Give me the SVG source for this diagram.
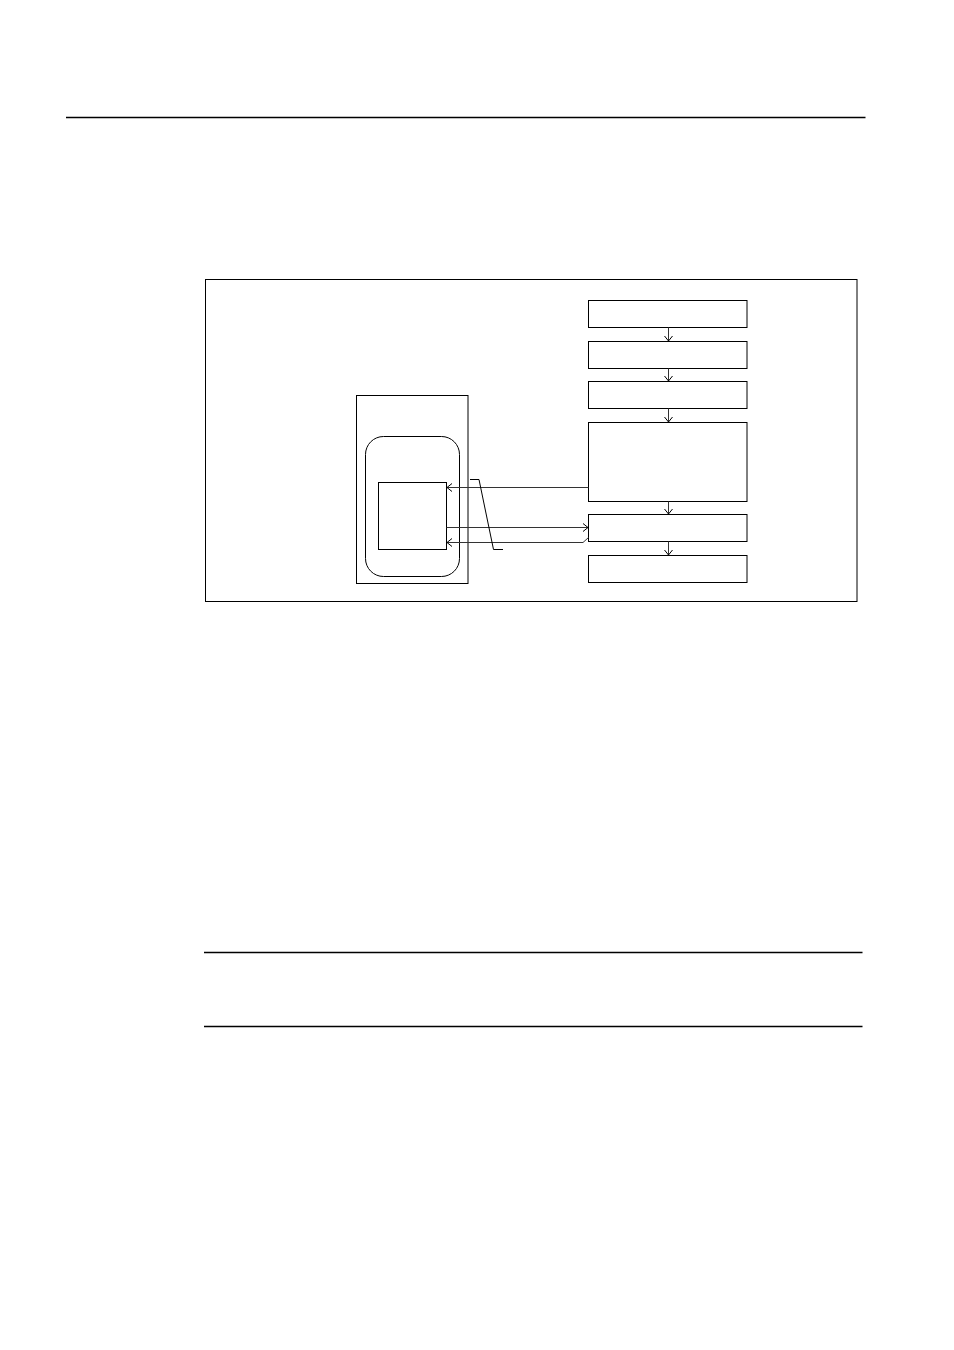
<svg xmlns="http://www.w3.org/2000/svg" width="954" height="1350" viewBox="0 0 954 1350">
<style>
.thin{fill:none;stroke:#000;stroke-width:1}
.rule{fill:none;stroke:#000;stroke-width:1.3}
.con{fill:none;stroke:#333;stroke-width:1}
</style>
<defs>
<marker id="arr" markerWidth="10" markerHeight="10" refX="7" refY="5" orient="auto" markerUnits="userSpaceOnUse">
<path d="M2,1 L7,5 L2,9" fill="none" stroke="#000" stroke-width="1"/>
</marker>
</defs>
<rect width="954" height="1350" fill="#fff"/>
<g id="rules">
<line class="rule" x1="66" y1="117.5" x2="865.5" y2="117.5"/>
<line class="rule" x1="204" y1="952.5" x2="862.5" y2="952.5"/>
<line class="rule" x1="204" y1="1026.5" x2="862.5" y2="1026.5"/>
</g>
<g id="frame"><rect class="thin" x="205.5" y="279.5" width="651.5" height="322"/></g>
<g id="outerBox"><rect class="thin" x="356.5" y="395.5" width="111.5" height="188"/></g>
<g id="roundBox"><rect class="thin" x="365.5" y="436.5" width="94" height="140" rx="18" ry="18"/></g>
<g id="innerBox"><rect class="thin" x="378.5" y="482.5" width="68" height="67"/></g>
<g id="box1"><rect class="thin" x="588.5" y="300.5" width="158.5" height="27"/></g>
<g id="box2"><rect class="thin" x="588.5" y="341.5" width="158.5" height="27"/></g>
<g id="box3"><rect class="thin" x="588.5" y="381.5" width="158.5" height="27"/></g>
<g id="box4"><rect class="thin" x="588.5" y="422.5" width="158.5" height="79"/></g>
<g id="box5"><rect class="thin" x="588.5" y="514.5" width="158.5" height="27"/></g>
<g id="box6"><rect class="thin" x="588.5" y="555.5" width="158.5" height="27"/></g>
<g id="connectors">
<line class="con" x1="668.5" y1="327.5" x2="668.5" y2="341" marker-end="url(#arr)"/>
<line class="con" x1="668.5" y1="368.5" x2="668.5" y2="381" marker-end="url(#arr)"/>
<line class="con" x1="668.5" y1="408.5" x2="668.5" y2="422" marker-end="url(#arr)"/>
<line class="con" x1="668.5" y1="501.5" x2="668.5" y2="514" marker-end="url(#arr)"/>
<line class="con" x1="668.5" y1="541.5" x2="668.5" y2="555" marker-end="url(#arr)"/>
<line class="con" x1="588.5" y1="487.5" x2="447" y2="487.5" marker-end="url(#arr)"/>
<line class="con" x1="446.5" y1="527.5" x2="588" y2="527.5" marker-end="url(#arr)"/>
<polyline class="con" points="588.5,537.5 583,542.5 447,542.5" marker-end="url(#arr)"/>
<polyline class="thin" points="470,479.5 479,479.5 493.5,549.5 503,549.5"/>
</g>
</svg>
